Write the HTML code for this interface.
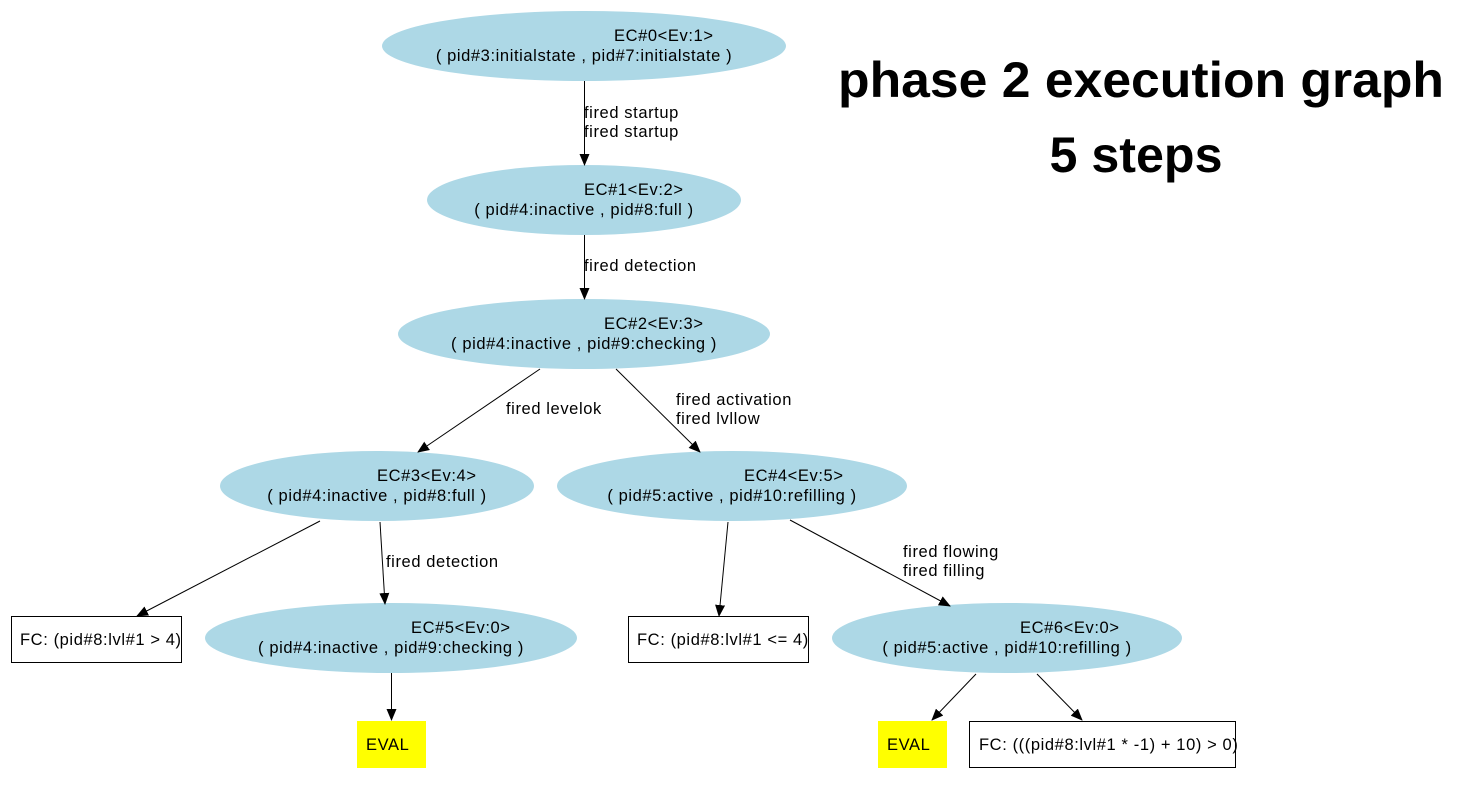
<!DOCTYPE html>
<html><head><meta charset="utf-8"><style>html,body{margin:0;padding:0;background:#fff}svg{display:block}</style></head><body>
<svg width="1464" height="789" xmlns="http://www.w3.org/2000/svg" font-family="Liberation Sans, Arial, sans-serif" font-size="16.5" letter-spacing="0.6">
<defs><marker id="a" markerWidth="12" markerHeight="10" refX="11" refY="5" orient="auto" markerUnits="userSpaceOnUse"><path d="M0,0 L12,5 L0,10 z" fill="#000"/></marker></defs>
<g fill="#add8e6">
<ellipse cx="584" cy="46" rx="202" ry="35"/>
<ellipse cx="584" cy="200" rx="157" ry="35"/>
<ellipse cx="584" cy="334" rx="186" ry="35"/>
<ellipse cx="377" cy="486" rx="157" ry="35"/>
<ellipse cx="732" cy="486" rx="175" ry="35"/>
<ellipse cx="391" cy="638" rx="186" ry="35"/>
<ellipse cx="1007" cy="638" rx="175" ry="35"/>
</g>
<g fill="#fff" stroke="#000" stroke-width="1">
<rect x="11.5" y="616.5" width="170" height="46"/>
<rect x="628.5" y="616.5" width="180" height="46"/>
<rect x="969.5" y="721.5" width="266" height="46"/>
</g>
<rect x="357" y="721" width="69" height="47" fill="#ff0"/>
<rect x="878" y="721" width="69" height="47" fill="#ff0"/>
<g stroke="#000" stroke-width="1" marker-end="url(#a)">
<line x1="584.5" y1="81" x2="584.5" y2="165"/>
<line x1="584.5" y1="235" x2="584.5" y2="299"/>
<line x1="540" y1="369" x2="418" y2="452"/>
<line x1="616" y1="369" x2="700" y2="452"/>
<line x1="320" y1="521" x2="137" y2="616"/>
<line x1="380" y1="522" x2="385" y2="604"/>
<line x1="728" y1="522" x2="719" y2="616"/>
<line x1="790" y1="520" x2="950" y2="606"/>
<line x1="391.5" y1="673" x2="391.5" y2="720"/>
<line x1="976" y1="674" x2="932" y2="720"/>
<line x1="1037" y1="674" x2="1082" y2="720"/>
</g>
<g fill="#000">
<text x="614" y="41">EC#0&lt;Ev:1&gt;</text>
<text x="584" y="61" text-anchor="middle">( pid#3:initialstate , pid#7:initialstate )</text>
<text x="584" y="195">EC#1&lt;Ev:2&gt;</text>
<text x="584" y="215" text-anchor="middle">( pid#4:inactive , pid#8:full )</text>
<text x="604" y="329">EC#2&lt;Ev:3&gt;</text>
<text x="584" y="349" text-anchor="middle">( pid#4:inactive , pid#9:checking )</text>
<text x="377" y="481">EC#3&lt;Ev:4&gt;</text>
<text x="377" y="501" text-anchor="middle">( pid#4:inactive , pid#8:full )</text>
<text x="744" y="481">EC#4&lt;Ev:5&gt;</text>
<text x="732" y="501" text-anchor="middle">( pid#5:active , pid#10:refilling )</text>
<text x="411" y="633">EC#5&lt;Ev:0&gt;</text>
<text x="391" y="653" text-anchor="middle">( pid#4:inactive , pid#9:checking )</text>
<text x="1020" y="633">EC#6&lt;Ev:0&gt;</text>
<text x="1007" y="653" text-anchor="middle">( pid#5:active , pid#10:refilling )</text>
<text x="20" y="645">FC: (pid#8:lvl#1 &gt; 4)</text>
<text x="637" y="645">FC: (pid#8:lvl#1 &lt;= 4)</text>
<text x="979" y="750">FC: (((pid#8:lvl#1 * -1) + 10) &gt; 0)</text>
<text x="366" y="750">EVAL</text>
<text x="887" y="750">EVAL</text>
<text x="584" y="118">fired startup</text>
<text x="584" y="137">fired startup</text>
<text x="584" y="271">fired detection</text>
<text x="506" y="414">fired levelok</text>
<text x="676" y="405">fired activation</text>
<text x="676" y="424">fired lvllow</text>
<text x="386" y="567">fired detection</text>
<text x="903" y="557">fired flowing</text>
<text x="903" y="576">fired filling</text>
<text x="1141" y="97" text-anchor="middle" font-size="50" font-weight="bold" letter-spacing="0" textLength="606" lengthAdjust="spacingAndGlyphs">phase 2 execution graph</text>
<text x="1136" y="172" text-anchor="middle" font-size="50" font-weight="bold" letter-spacing="0" textLength="173" lengthAdjust="spacingAndGlyphs">5 steps</text>
</g>
</svg>
</body></html>
